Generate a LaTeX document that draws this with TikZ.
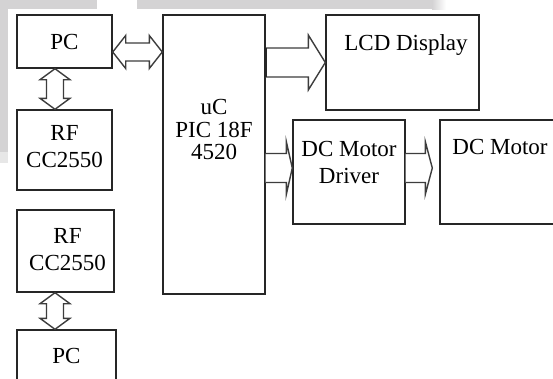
\documentclass[tikz,border=0pt]{standalone}
\usepackage{fontspec}
\setmainfont{Liberation Serif}
\usetikzlibrary{calc}
\definecolor{edge}{HTML}{262626}
\definecolor{arrline}{HTML}{3D3D3D}
\definecolor{band}{HTML}{D4D3D4}
\newcommand\boxfont{\fontsize{23}{27}\selectfont}

\tikzset{
 blk/.style={draw=edge,line width=1.4pt,fill=white,inner sep=0pt},
 bigarrow/.style={draw=arrline,line width=1.4pt,fill=white,line join=miter},
 every label/.style={align=center,inner sep=0pt},
}
% block arrows: from, to, half shaft, half head, head length
\newcommand\rblock[5]{%
 \draw[bigarrow] ($(#1)+(0,-#3)$) -- ($(#2)+(-#5,-#3)$) -- ($(#2)+(-#5,-#4)$) -- (#2)
  -- ($(#2)+(-#5,#4)$) -- ($(#2)+(-#5,#3)$) -- ($(#1)+(0,#3)$);}
\newcommand\hdblock[5]{%
 \draw[bigarrow] (#1) -- ($(#1)+(#5,-#4)$) -- ($(#1)+(#5,-#3)$) -- ($(#2)+(-#5,-#3)$)
  -- ($(#2)+(-#5,-#4)$) -- (#2) -- ($(#2)+(-#5,#4)$) -- ($(#2)+(-#5,#3)$)
  -- ($(#1)+(#5,#3)$) -- ($(#1)+(#5,#4)$) -- cycle;}
\newcommand\vdblock[5]{%
 \draw[bigarrow] (#1) -- ($(#1)+(-#4,#5)$) -- ($(#1)+(-#3,#5)$) -- ($(#2)+(-#3,-#5)$)
  -- ($(#2)+(-#4,-#5)$) -- (#2) -- ($(#2)+(#4,-#5)$) -- ($(#2)+(#3,-#5)$)
  -- ($(#1)+(#3,#5)$) -- ($(#1)+(#4,#5)$) -- cycle;}

\begin{document}
\begin{tikzpicture}[x=1pt,y=-1pt,font=\boxfont]
 \useasboundingbox (0,0) rectangle (553,378);
 % scan edges
 \fill[band] (0,0) rectangle (97,9);
 \fill[band] (137,0) rectangle (432,9);
 \shade[left color=band,right color=white] (432,0) rectangle (446,9);
 \fill[band] (0,0) rectangle (8,152);
 \fill[band!55] (0,152) rectangle (8,163);
 % blocks
 \node[blk,minimum width=95pt,minimum height=53pt,label={center:PC}] (pc) at (64.5,41.5) {};
 \node[blk,minimum width=95pt,minimum height=80pt,label={[yshift=3pt]center:RF\\CC2550}] (rfa) at (64.5,150) {};
 \node[blk,minimum width=97pt,minimum height=82pt,label={[xshift=2pt,yshift=1pt]center:RF\\CC2550}] (rfb) at (65.5,251) {};
 \node[blk,minimum width=99pt,minimum height=53pt,label={[yshift=1pt]center:PC}] (pcb) at (66.5,356.5) {};
 \node[blk,minimum width=102pt,minimum height=279pt,label={[yshift=25pt,font=\fontsize{23}{22.5}\selectfont]center:uC\\PIC 18F\\4520}] (uc) at (214,154.5) {};
 \node[blk,minimum width=153pt,minimum height=95pt,label={[xshift=3.5pt,yshift=17.5pt]center:LCD Display}] (lcd) at (402.5,62.5) {};
 \node[blk,minimum width=112pt,minimum height=104pt,label={[yshift=10pt]center:DC Motor\\Driver}] (drv) at (349,172) {};
 \node[blk,minimum width=120pt,minimum height=104pt,label={[yshift=25pt]center:DC Motor}] (mot) at (500,172) {};
 % links
 \coordinate (pcr) at ($(pc.east)+(0,10.5)$);
 \hdblock{pcr}{uc.west |- pcr}{9}{16.5}{13}
 \coordinate (pcd) at ($(pc.south)+(-9.5,0)$);
 \vdblock{pcd}{rfa.north -| pcd}{8.5}{15}{11}
 \coordinate (rfd) at ($(rfb.south)+(-10.5,0)$);
 \vdblock{rfd}{pcb.north -| rfd}{8.5}{15}{11}
 \rblock{uc.east |- lcd.west}{lcd.west}{14.5}{27.5}{17}
 \draw[edge,line width=2.6pt] ($(uc.east |- lcd.west)+(0,-14.5)$) -- ++(0,29);
 \coordinate (drl) at ($(drv.west)+(0,-4)$);
 \rblock{uc.east |- drl}{drl}{14.5}{26.5}{6}
 \coordinate (mol) at ($(mot.west)+(-7,-4)$);
 \rblock{drv.east |- mol}{mol}{14.5}{26.5}{7}
\end{tikzpicture}
\end{document}
